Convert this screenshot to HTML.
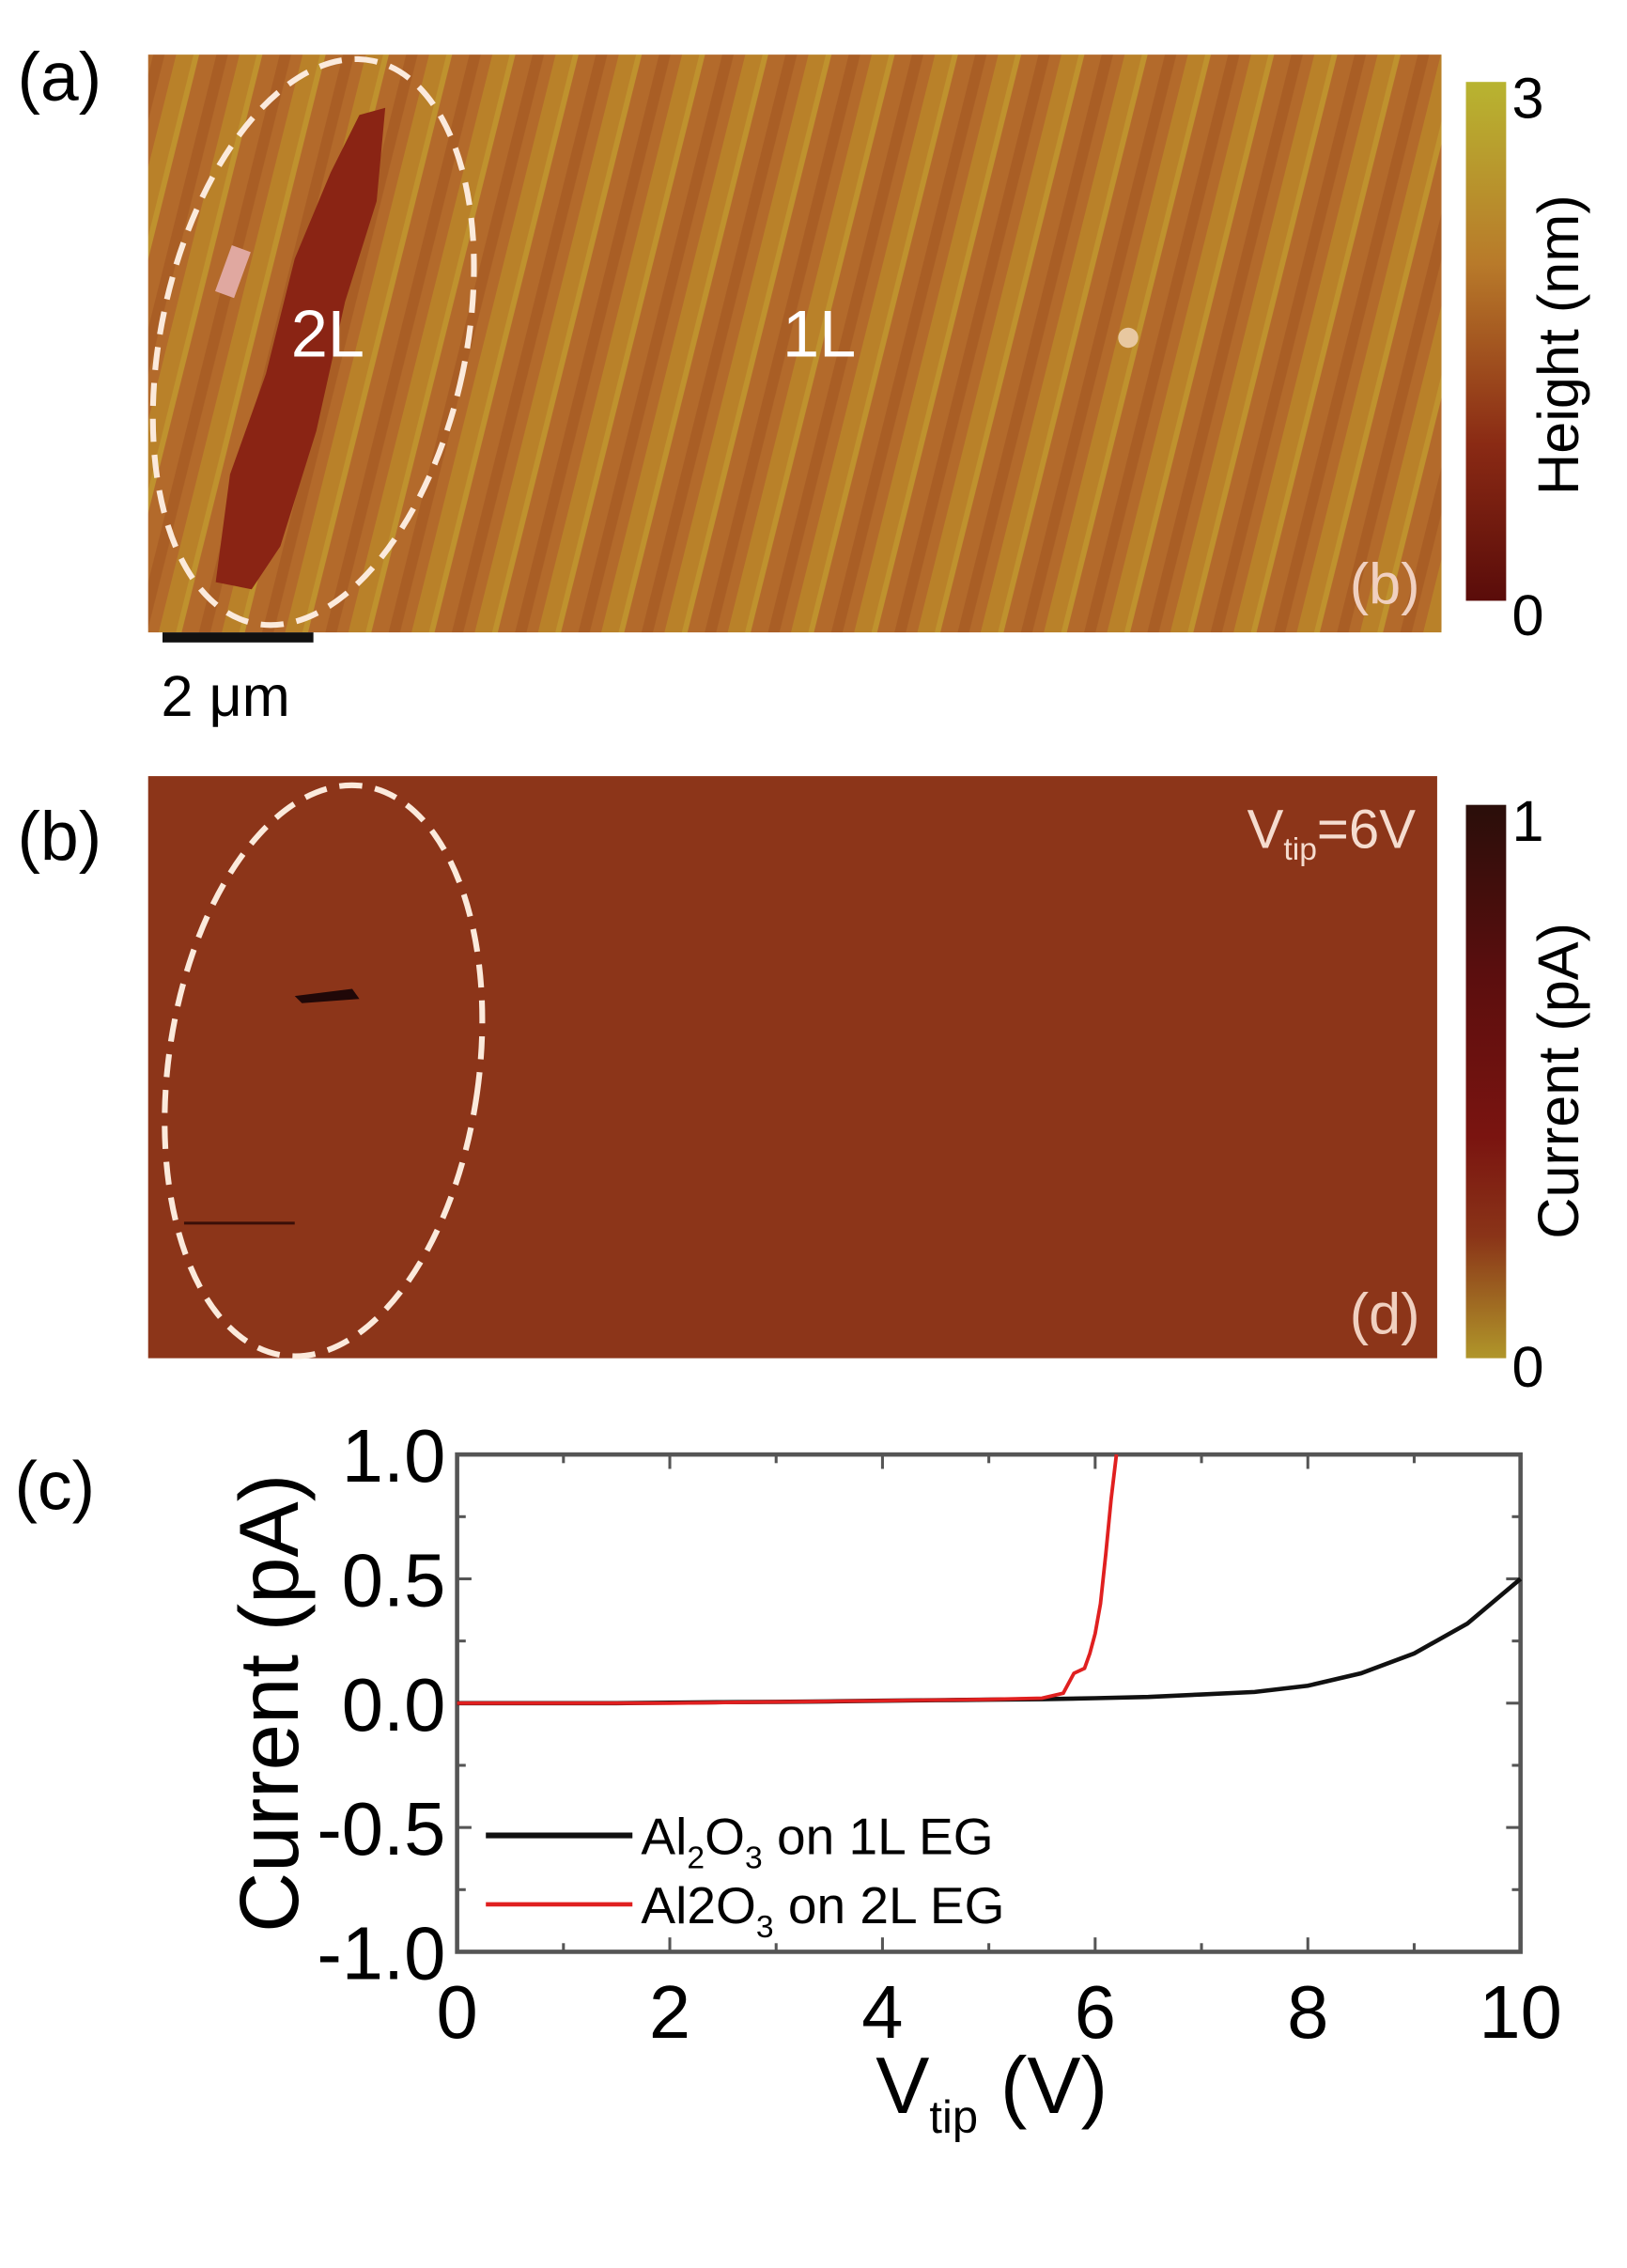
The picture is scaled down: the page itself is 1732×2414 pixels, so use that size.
<!DOCTYPE html>
<html><head><meta charset="utf-8"><style>
html,body{margin:0;padding:0;background:#fff;}
svg{display:block;font-family:"Liberation Sans",sans-serif;}
</style></head><body>
<svg width="1732" height="2414" viewBox="0 0 1132 1578" xmlns="http://www.w3.org/2000/svg">
<defs>
<linearGradient id="cbA" x1="0" y1="0" x2="0" y2="1"><stop offset="0" stop-color="#b8b430"/><stop offset="0.35" stop-color="#b87a2a"/><stop offset="0.7" stop-color="#8a2a14"/><stop offset="1" stop-color="#5a0c0a"/></linearGradient>
<linearGradient id="cbB" x1="0" y1="0" x2="0" y2="1"><stop offset="0" stop-color="#2a0e0a"/><stop offset="0.3" stop-color="#5a0e0e"/><stop offset="0.6" stop-color="#7a1410"/><stop offset="0.78" stop-color="#8a3418"/><stop offset="1" stop-color="#b0962a"/></linearGradient>
<pattern id="steps" width="44" height="410" patternUnits="userSpaceOnUse" patternTransform="skewX(-14)">
<rect width="44" height="410" fill="#b36a2b"/><rect x="0" width="12" height="410" fill="#b98129"/><rect x="12" width="4" height="410" fill="#bf922e"/><rect x="28" width="8" height="410" fill="#a95e25"/></pattern>
</defs>

<!-- Panel a -->
<text x="12" y="70" font-size="48">(a)</text>
<g>
<rect x="103" y="38" width="900" height="402" fill="url(#steps)"/>
<path d="M250 80 L268 75 L262 140 L240 210 L220 300 L195 380 L175 410 L150 405 L160 330 L185 260 L205 180 L230 120 Z" fill="#8a2414"/>
<rect x="155" y="172" width="14" height="34" fill="#e0a8a0" transform="rotate(20 162 189)"/>
<circle cx="785" cy="235" r="7" fill="#e8c8a0"/>
</g>
<ellipse cx="218" cy="238" rx="106" ry="200" transform="rotate(12 218 238)" fill="none" stroke="#fbeadc" stroke-width="4" stroke-dasharray="16 9"/>
<text x="228" y="248" font-size="46" fill="#fff" text-anchor="middle">2L</text>
<text x="570" y="248" font-size="46" fill="#fff" text-anchor="middle">1L</text>
<text x="988" y="420" font-size="40" fill="#f0d0c0" text-anchor="end">(b)</text>
<rect x="113" y="440" width="105" height="7" fill="#111"/>
<text x="112" y="498" font-size="40">2 μm</text>
<rect x="1020" y="57" width="28" height="361" fill="url(#cbA)"/>
<text x="1052" y="82" font-size="40">3</text>
<text x="1052" y="442" font-size="40">0</text>
<text transform="translate(1098 240) rotate(-90)" font-size="40" text-anchor="middle">Height (nm)</text>

<!-- Panel b -->
<text x="12" y="598" font-size="48">(b)</text>
<rect x="103" y="540" width="897" height="405" fill="#8c3519"/>
<path d="M205 693 L245 688 L250 695 L210 698 Z" fill="#200808"/>
<line x1="128" y1="851" x2="205" y2="851" stroke="#3a0f08" stroke-width="2"/>
<ellipse cx="225" cy="745" rx="108" ry="200" transform="rotate(8 225 745)" fill="none" stroke="#fbeadc" stroke-width="4" stroke-dasharray="16 9"/>
<text x="985" y="590" font-size="38" fill="#f5dccf" text-anchor="end">V<tspan font-size="22" dy="8">tip</tspan><tspan dy="-8">=6V</tspan></text>
<text x="988" y="928" font-size="40" fill="#f0d0c0" text-anchor="end">(d)</text>
<rect x="1020" y="560" width="28" height="385" fill="url(#cbB)"/>
<text x="1052" y="585" font-size="40">1</text>
<text x="1052" y="965" font-size="40">0</text>
<text transform="translate(1098 752) rotate(-90)" font-size="40" text-anchor="middle">Current (pA)</text>

<!-- Panel c -->
<text x="10" y="1050" font-size="48">(c)</text>
<g id="chart"></g>
</svg>
<script>
const xTicks=[0,2,4,6,8,10];
const yTicks=[1.0,0.5,0.0,-0.5,-1.0];
const yTickLabels=["1.0","0.5","0.0","-0.5","-1.0"];
const blackV=[0,0.5,1,1.5,2,2.5,3,3.5,4,4.5,5,5.5,6,6.5,7,7.5,8,8.5,9,9.5,10];
const blackI=[0,0,0,0,0.002,0.004,0.005,0.007,0.01,0.012,0.014,0.016,0.02,0.025,0.035,0.045,0.07,0.12,0.2,0.32,0.5];
const redV=[0,1,2,3,4,5,5.5,5.7,5.8,5.9,5.95,6.0,6.05,6.1,6.15,6.2];
const redI=[0,0,0,0.005,0.01,0.015,0.02,0.04,0.12,0.14,0.2,0.28,0.4,0.6,0.82,1.0];
const NS="http://www.w3.org/2000/svg";
const X0=318,X1=1058,Y0=1012,Y1=1358;
const sx=v=>X0+(v-0)/(10-0)*(X1-X0);
const sy=v=>Y1-(v+1)/2*(Y1-Y0);
const g=document.getElementById('chart');
function mk(t,a){const e=document.createElementNS(NS,t);for(const k in a)e.setAttribute(k,a[k]);g.appendChild(e);return e;}
const frame=mk('rect',{x:X0,y:Y0,width:X1-X0,height:Y1-Y0,fill:'none',stroke:'#555',"stroke-width":3});


for(let v=0;v<=10;v+=1){const L=v%2===0?10:6;
 mk('line',{x1:sx(v),x2:sx(v),y1:Y1,y2:Y1-L,stroke:'#555','stroke-width':2});
 mk('line',{x1:sx(v),x2:sx(v),y1:Y0,y2:Y0+L,stroke:'#555','stroke-width':2});}
for(let v=-1;v<=1.001;v+=0.25){const L=Math.abs(v*2-Math.round(v*2))<1e-6?10:6;
 mk('line',{x1:X0,x2:X0+L,y1:sy(v),y2:sy(v),stroke:'#555','stroke-width':2});
 mk('line',{x1:X1,x2:X1-L,y1:sy(v),y2:sy(v),stroke:'#555','stroke-width':2});}
xTicks.forEach(v=>{const t=mk('text',{x:sx(v),y:1418,'font-size':52,'text-anchor':'middle'});t.textContent=v;
 
 });
yTicks.forEach((v,i)=>{const t=mk('text',{x:X0-8,y:sy(v)+19,'font-size':52,'text-anchor':'end'});t.textContent=yTickLabels[i];
 
 });
const bl=mk('polyline',{points:blackV.map((v,i)=>sx(v)+','+sy(blackI[i])).join(' '),fill:'none',stroke:'#111','stroke-width':3});


const rl=mk('polyline',{points:redV.map((v,i)=>sx(v)+','+sy(redI[i])).join(' '),fill:'none',stroke:'#e02020','stroke-width':2.5});


const yt=mk('text',{transform:'translate(207 1185) rotate(-90)','font-size':58,'text-anchor':'middle'});yt.textContent='Current (pA)';


const xt=mk('text',{x:690,y:1470,'font-size':56,'text-anchor':'middle'});
xt.innerHTML='V<tspan font-size="32" dy="14">tip</tspan><tspan dy="-14"> (V)</tspan>';


const l1=mk('line',{x1:338,x2:440,y1:1277,y2:1277,stroke:'#111','stroke-width':4});


const t1=mk('text',{x:446,y:1290,'font-size':36});t1.innerHTML='Al<tspan font-size="22" dy="10">2</tspan><tspan dy="-10">O</tspan><tspan font-size="22" dy="10">3</tspan><tspan dy="-10"> on 1L EG</tspan>';


const l2=mk('line',{x1:338,x2:440,y1:1325,y2:1325,stroke:'#e02020','stroke-width':3});


const t2=mk('text',{x:446,y:1338,'font-size':36});t2.innerHTML='Al2O<tspan font-size="22" dy="10">3</tspan><tspan dy="-10"> on 2L EG</tspan>';


</script>
</body></html>
